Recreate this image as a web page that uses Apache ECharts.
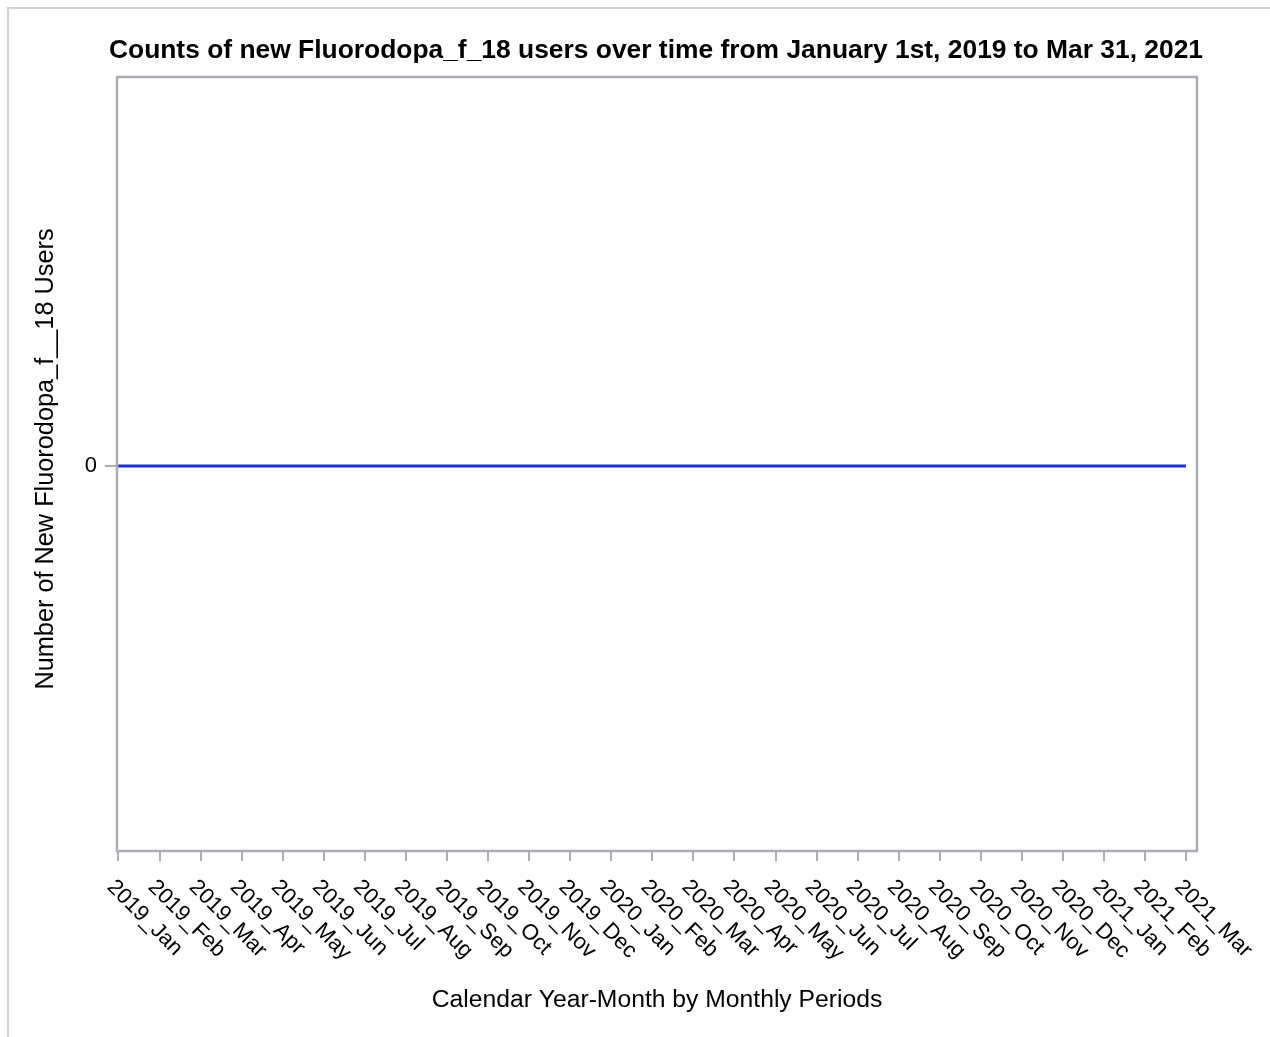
<!DOCTYPE html>
<html>
<head>
<meta charset="utf-8">
<title>Counts of new Fluorodopa_f_18 users</title>
<script src="https://cdn.jsdelivr.net/npm/echarts@6/dist/echarts.min.js"></script>
<style>
	html, body { margin:0; padding:0; background:#fff; }
	#content_users { width:1270px; height:1037px; }
</style>
</head>
<body>
<div id="content_users"></div>

<script type="text/javascript">

	// calendar year-month periods
	var months = ['2019_Jan','2019_Feb','2019_Mar','2019_Apr','2019_May','2019_Jun','2019_Jul','2019_Aug','2019_Sep','2019_Oct','2019_Nov','2019_Dec',
		'2020_Jan','2020_Feb','2020_Mar','2020_Apr','2020_May','2020_Jun','2020_Jul','2020_Aug','2020_Sep','2020_Oct','2020_Nov','2020_Dec',
		'2021_Jan','2021_Feb','2021_Mar'];
	// number of new users per month
	var newUsers = [0,0,0,0,0,0,0,0,0,0,0,0, 0,0,0,0,0,0,0,0,0,0,0,0, 0,0,0];
	var yTicks = [0];

	var monthIdx = [];
	var points = [];
	for (var i = 0; i < months.length; i++) {
		monthIdx.push(i);
		points.push([i, newUsers[i]]);
	}

	var frameColor = '#abafb3';
	var font = '"Liberation Sans", Arial, sans-serif';

	var content_users = echarts.init(document.getElementById('content_users'));
	content_users.setOption({
		animation : false,
		title : {
			text : 'Counts of new Fluorodopa_f_18 users over time from January 1st, 2019 to Mar 31, 2021',
			left : 651,
			textAlign : 'center',
			top : 33,
			textStyle : {fontFamily: font, fontSize: 26.4, fontWeight: 'bold', color: '#000'}
		},
		graphic : [
			{
				type : 'polyline',
				shape : {points: [[8, 1037], [8, 8], [1270, 8]]},
				style : {stroke: '#d3d3d3', lineWidth: 2, fill: null}
			}
		],
		grid : {
			left : 117,
			right : 73,
			top : 77,
			bottom : 186,
			show : true,
			borderColor : frameColor,
			borderWidth : 2.5,
			outerBoundsMode : 'none'
		},
		xAxis : [
			{
				type : 'value',
				min : -0.03,
				max : 26.27,
				name : 'Calendar Year-Month by Monthly Periods',
				nameLocation : 'middle',
				nameGap : 137,
				nameTextStyle : {fontFamily: font, fontSize: 24.7, color: '#000'},
				axisLine : {show: false, onZero: false},
				splitLine : {show: false},
				axisTick : {show: true, length: 10, customValues: monthIdx, lineStyle: {color: frameColor, width: 2}},
				axisLabel : {
					customValues : monthIdx,
					rotate : -45,
					margin : 25,
					verticalAlign : 'top',
					fontFamily : font,
					fontSize : 22,
					color : '#000',
					formatter : function (v) { return months[Math.round(v)]; }
				}
			}
		],
		yAxis : [
			{
				type : 'value',
				min : -1,
				max : 1.01,
				name : 'Number of New Fluorodopa_f__18 Users',
				nameLocation : 'middle',
				nameGap : 58,
				nameTextStyle : {fontFamily: font, fontSize: 25.3, color: '#000', padding: [0, 0, 0, 10]},
				axisLine : {show: false, onZero: false},
				splitLine : {show: false},
				axisTick : {show: true, length: 12, customValues: yTicks, lineStyle: {color: frameColor, width: 2}},
				axisLabel : {customValues: yTicks, margin: 20, fontFamily: font, fontSize: 22, color: '#000'}
			}
		],
		series : [
			{
				name : 'New users',
				type : 'line',
				showSymbol : false,
				lineStyle : {color: '#1f2fd6', width: 3},
				data : points
			}
		]
	});

</script>
</body>
</html>
